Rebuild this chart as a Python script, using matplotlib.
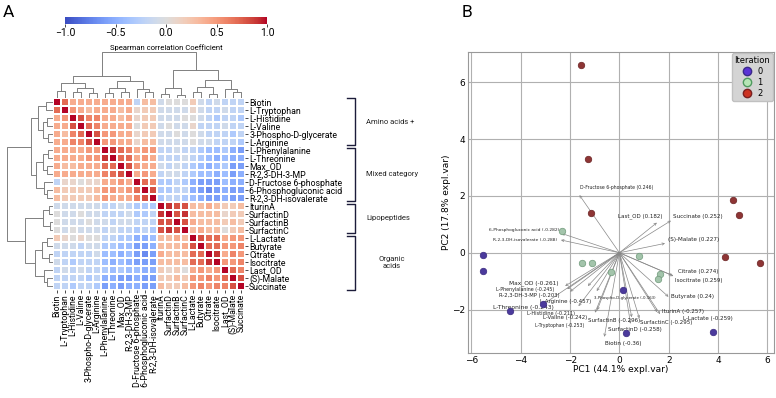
import matplotlib
matplotlib.use('Agg')
import matplotlib.pyplot as plt
from matplotlib.lines import Line2D
import numpy as np

# ---- panel A data ----
names = ['Biotin', 'L-Tryptophan', 'L-Histidine', 'L-Valine', '3-Phospho-D-glycerate',
         'L-Arginine', 'L-Phenylalanine', 'L-Threonine', 'Max_OD', 'R-2,3-DH-3-MP',
         'D-Fructose 6-phosphate', '6-Phosphogluconic acid', 'R-2,3-DH-isovalerate',
         'IturinA', 'SurfactinD', 'SurfactinB', 'SurfactinC', 'L-Lactate', 'Butyrate',
         'Citrate', 'Isocitrate', 'Last_OD', '(S)-Malate', 'Succinate']

# lower triangle of the Spearman matrix (clustered order)
rho_lower = [
    [1.0],
    [0.7, 1.0],
    [0.4, 0.5, 1.0],
    [0.4, 0.4, 0.8, 1.0],
    [0.4, 0.3, 0.6, 0.7, 1.0],
    [0.4, 0.4, 0.6, 0.6, 0.8, 1.0],
    [0.4, 0.4, 0.4, 0.4, 0.5, 0.5, 1.0],
    [0.4, 0.4, 0.4, 0.4, 0.5, 0.5, 0.9, 1.0],
    [0.4, 0.3, 0.3, 0.4, 0.4, 0.4, 0.7, 0.7, 1.0],
    [0.4, 0.4, 0.4, 0.4, 0.4, 0.4, 0.6, 0.7, 0.8, 1.0],
    [-0.2, 0.1, 0.1, 0.0, 0.1, 0.1, 0.4, 0.4, 0.5, 0.4, 1.0],
    [0.3, 0.2, 0.2, 0.2, 0.2, 0.3, 0.5, 0.5, 0.4, 0.5, 0.7, 1.0],
    [0.3, 0.2, 0.2, 0.2, 0.2, 0.3, 0.5, 0.4, 0.4, 0.4, 0.6, 0.8, 1.0],
    [-0.1, -0.1, -0.1, -0.1, -0.1, -0.1, -0.2, -0.2, -0.1, -0.2, -0.3, -0.3, -0.3, 1.0],
    [0.0, -0.1, -0.1, 0.0, -0.1, -0.1, -0.2, -0.2, -0.2, -0.1, -0.3, -0.3, -0.2, 0.9, 1.0],
    [0.0, -0.1, -0.1, -0.1, 0.0, -0.1, -0.1, -0.2, -0.1, -0.1, -0.2, -0.2, -0.2, 0.8, 0.8, 1.0],
    [0.0, -0.1, 0.0, -0.1, -0.1, -0.1, -0.2, -0.1, -0.2, -0.2, -0.3, -0.2, -0.3, 0.8, 0.9, 0.8, 1.0],
    [0.2, 0.1, 0.0, 0.1, 0.0, 0.0, -0.2, -0.2, -0.3, -0.3, -0.5, -0.5, -0.4, 0.3, 0.3, 0.4, 0.3, 1.0],
    [-0.1, -0.1, -0.1, -0.2, -0.1, -0.1, -0.3, -0.3, -0.4, -0.4, -0.6, -0.6, -0.5, 0.3, 0.3, 0.3, 0.4, 0.8, 1.0],
    [-0.2, -0.2, -0.2, -0.2, -0.2, -0.1, -0.4, -0.4, -0.5, -0.4, -0.6, -0.7, -0.6, 0.4, 0.3, 0.3, 0.3, 0.7, 0.7, 1.0],
    [-0.1, -0.2, -0.3, -0.2, -0.2, -0.2, -0.4, -0.5, -0.4, -0.5, -0.6, -0.6, -0.6, 0.3, 0.3, 0.3, 0.3, 0.7, 0.7, 0.9, 1.0],
    [-0.2, -0.1, -0.2, -0.1, -0.2, -0.2, -0.3, -0.4, -0.3, -0.4, -0.4, -0.5, -0.5, 0.2, 0.1, 0.2, 0.0, 0.4, 0.5, 0.4, 0.5, 1.0],
    [-0.2, -0.2, -0.2, -0.2, -0.3, -0.2, -0.5, -0.5, -0.6, -0.6, -0.5, -0.6, -0.6, 0.2, 0.2, 0.3, 0.2, 0.5, 0.5, 0.6, 0.5, 0.7, 1.0],
    [-0.2, -0.2, -0.3, -0.2, -0.2, -0.3, -0.6, -0.5, -0.6, -0.5, -0.5, -0.6, -0.6, 0.3, 0.2, 0.2, 0.3, 0.5, 0.6, 0.5, 0.6, 0.6, 0.8, 1.0],
]

# dendrogram merges (left, right, height); leaves 0..23, new nodes from 24
merges = [
    (0, 1, 0.15), (2, 3, 0.12), (4, 5, 0.10), (25, 26, 0.22), (24, 27, 0.33),
    (6, 7, 0.10), (8, 9, 0.13), (29, 30, 0.22), (11, 12, 0.12), (10, 32, 0.2),
    (31, 33, 0.36), (28, 34, 0.48),
    (13, 14, 0.09), (15, 16, 0.07), (36, 37, 0.22),
    (17, 18, 0.12), (19, 20, 0.09), (39, 40, 0.24), (22, 23, 0.12), (21, 42, 0.2),
    (41, 43, 0.38), (38, 44, 0.6), (35, 45, 1.0),
]

groups = ['Amino acids +', 'Mixed category', 'Lipopeptides', 'Organic\nacids']
group_sizes = [6, 7, 4, 7]

# ---- panel B data ----
pc1_it0 = [-5.54, -5.54, -4.43, -3.11, 0.14, 0.27, 3.81]
pc2_it0 = [-0.08, -0.64, -2.05, -1.80, -1.30, -2.84, -2.80]
pc1_it1 = [-2.32, -1.53, -1.11, 0.80, -0.36, 1.66, 1.56]
pc2_it1 = [0.76, -0.37, -0.35, -0.12, -0.69, -0.75, -0.93]
pc1_it2 = [-1.55, -1.26, -1.17, 4.60, 4.84, 4.30, 5.71]
pc2_it2 = [6.61, 3.30, 1.39, 1.85, 1.32, -0.16, -0.37]

load_labels = ['D-Fructose 6-phosphate (0.246)', 'Last_OD (0.182)', 'Succinate (0.252)',
               '6-Phosphogluconic acid (-0.282)', 'R-2,3-DH-isovalerate (-0.288)',
               '(S)-Malate (0.227)', 'Citrate (0.274)', 'Isocitrate (0.259)', 'Butyrate (0.24)',
               'IturinA (-0.257)', 'L-Lactate (-0.259)', 'SurfactinC (-0.295)',
               'SurfactinB (-0.296)', 'SurfactinD (-0.258)', 'Biotin (-0.36)',
               'L-Tryptophan (-0.253)', 'L-Valine (-0.242)', 'L-Histidine (-0.211)',
               'L-Threonine (-0.243)', 'L-Arginine (-0.457)', '3-Phospho-D-glycerate (-0.163)',
               'Max_OD (-0.261)', 'L-Phenylalanine (-0.245)', 'R-2,3-DH-3-MP (-0.203)']
load_x = [-1.62, 1.52, 2.09, -2.34, -2.37, 1.85, 2.13, 2.19, 1.99, 1.65, 1.53, 0.81,
          0.50, 0.45, -0.61, -0.99, -0.90, -1.66, -3.08, -1.28, -0.92, -2.20, -2.12, -2.0]
load_y = [2.03, 1.06, 1.13, 0.68, 0.45, 0.33, -0.79, -0.82, -1.55, -2.16, -2.09, -2.31,
          -2.27, -2.5, -2.96, -2.11, -2.02, -1.88, -1.81, -1.17, -1.35, -1.17, -1.28, -1.37]
text_x = [-1.59, -0.04, 2.17, -2.43, -2.54, 1.98, 2.37, 2.26, 2.09, 1.72, 2.57, 0.84,
          -1.26, -0.45, -0.58, -3.42, -3.11, -3.75, -5.14, -3.2, -1.05, -4.46, -5.0, -4.87]
text_y = [2.30, 1.29, 1.29, 0.80, 0.45, 0.45, -0.67, -0.96, -1.55, -2.08, -2.31, -2.46,
          -2.39, -2.69, -3.19, -2.57, -2.29, -2.14, -1.93, -1.73, -1.61, -1.06, -1.28, -1.49]
text_size = [3.3, 4.0, 4.1, 3.2, 3.2, 4.1, 4.0, 4.0, 4.1, 4.0, 4.1, 4.0,
             4.0, 4.1, 4.1, 3.3, 3.9, 3.6, 4.3, 4.0, 2.8, 4.2, 3.4, 3.8]
text_ha = ['left'] * 3 + ['right'] * 2 + ['left'] * 19

W, H = 776, 398


def fig_rect(x0, y0, x1, y1):
    return [x0 / W, 1 - y1 / H, (x1 - x0) / W, (y1 - y0) / H]


def dendro_segments(merges, n):
    pos = {i: i + 0.5 for i in range(n)}
    hgt = {i: 0.0 for i in range(n)}
    segs = []
    for k, (a, b, h) in enumerate(merges):
        segs.append(([pos[a], pos[a], pos[b], pos[b]], [hgt[a], h, h, hgt[b]]))
        pos[n + k] = (pos[a] + pos[b]) / 2
        hgt[n + k] = h
    return segs


n = len(names)
rho = np.zeros((n, n))
for i, row in enumerate(rho_lower):
    for j, v in enumerate(row):
        rho[i, j] = v
        rho[j, i] = v

fig = plt.figure(figsize=(W / 100, H / 100), dpi=100)
ff = 'Roboto'

# overlay for brackets and panel letters
ov = fig.add_axes([0, 0, 1, 1])
ov.set_xlim(0, W)
ov.set_ylim(H, 0)
ov.axis('off')

# heatmap
ax = fig.add_axes(fig_rect(53, 98, 245, 290))
mesh = ax.pcolormesh(rho, cmap='coolwarm', vmin=-1, vmax=1, edgecolors='white', linewidth=0.3)
ax.set_xlim(0, n)
ax.set_ylim(n, 0)
ax.set_xticks(np.arange(n) + 0.5)
ax.set_yticks(np.arange(n) + 0.5)
ax.set_xticklabels(names, rotation=90, fontsize=6.3, fontfamily=ff)
ax.set_yticklabels(names, fontsize=6.3, fontfamily=ff)
ax.yaxis.tick_right()
ax.tick_params(length=2, width=0.5, pad=1)
for s in ax.spines.values():
    s.set_visible(False)

segs = dendro_segments(merges, n)
axc = fig.add_axes(fig_rect(53, 50, 245, 98))
axr = fig.add_axes(fig_rect(5, 98, 53, 290))
for xs, ys in segs:
    axc.plot(xs, ys, color='#808080', lw=0.7)
    axr.plot(ys, xs, color='#808080', lw=0.7)
axc.set_xlim(0, n)
axc.set_ylim(0, 1.04)
axr.set_ylim(n, 0)
axr.set_xlim(1.04, 0)
axc.axis('off')
axr.axis('off')

# colorbar
cax = fig.add_axes(fig_rect(65, 17, 267, 24))
cb = fig.colorbar(mesh, cax=cax, orientation='horizontal', ticks=[-1, -0.5, 0, 0.5, 1])
cb.outline.set_visible(False)
cax.tick_params(labelsize=7.5, length=2, width=0.5, pad=1)
for t in cax.get_xticklabels():
    t.set_fontfamily(ff)
cax.set_xlabel('Spearman correlation Coefficient', fontsize=5.5, fontfamily=ff, labelpad=4)

# brackets
start = 98
for g, size in zip(groups, group_sizes):
    end = start + 8 * size
    top = start + (0 if start == 98 else 1.5)
    bot = end - (0 if end == 290 else 1.5)
    ov.plot([347, 355, 355, 347], [top, top, bot, bot], color='#1c1c3a', lw=1)
    ov.text(366 if '\n' not in g else 392, (start + end) / 2, g, fontsize=5.5, fontfamily=ff,
            ha='left' if '\n' not in g else 'center', va='center', color='#222222')
    start = end

ov.text(3, 17, 'A', fontsize=12.5, fontfamily=ff)
ov.text(462, 17, 'B', fontsize=12.5, fontfamily=ff)

# ---- panel B ----
bx = fig.add_axes(fig_rect(468, 52, 774, 353))
bx.set_xlim(-6.14, 6.27)
bx.set_ylim(-3.53, 7.07)
bx.grid(True, color='#b0b0b0', lw=0.8)
bx.set_axisbelow(True)
for s in bx.spines.values():
    s.set_color('#999999')
    s.set_linewidth(0.8)
bx.tick_params(length=0, labelsize=6.5, pad=2)
bx.set_xticks([-6, -4, -2, 0, 2, 4, 6])
bx.set_yticks([-2, 0, 2, 4, 6])
bx.set_xlabel('PC1 (44.1% expl.var)', fontsize=6.5, labelpad=0)
bx.set_ylabel('PC2 (17.8% expl.var)', fontsize=6.5, labelpad=1)

for lx, ly in zip(load_x, load_y):
    bx.annotate('', xy=(lx, ly), xytext=(0, 0),
                arrowprops=dict(arrowstyle='->', lw=0.5, color='#888888',
                                shrinkA=0, shrinkB=0, mutation_scale=4))
for lab, tx, ty, fs, ha in zip(load_labels, text_x, text_y, text_size, text_ha):
    bx.text(tx, ty, lab, fontsize=fs, ha=ha, va='center', color='#222222')

bx.scatter(pc1_it0, pc2_it0, s=22, color='#4b3a9c', edgecolors='#3a2a80', lw=0.5, zorder=3)
bx.scatter(pc1_it1, pc2_it1, s=22, color='#a3c4ab', edgecolors='#6f9a7a', lw=0.5, zorder=3)
bx.scatter(pc1_it2, pc2_it2, s=22, color='#8e3535', edgecolors='#6a2424', lw=0.5, zorder=3)

handles = [Line2D([], [], ls='', marker='o', markersize=6, markerfacecolor=c, markeredgecolor=e)
           for c, e in [('#5b33d6', '#3b2a8a'), ('#b6e6b6', '#4f9a5f'), ('#cc3322', '#7a2020')]]
leg = bx.legend(handles, ['0', '1', '2'], title='Iteration', loc='upper right', fontsize=6,
                title_fontsize=6, frameon=True, facecolor='#d4d4d4', edgecolor='#c0c0c0',
                framealpha=1, borderpad=0.3, labelspacing=0.25, handletextpad=0.6,
                borderaxespad=0.15, handlelength=1.2)

fig.savefig('out.png', dpi=100)
